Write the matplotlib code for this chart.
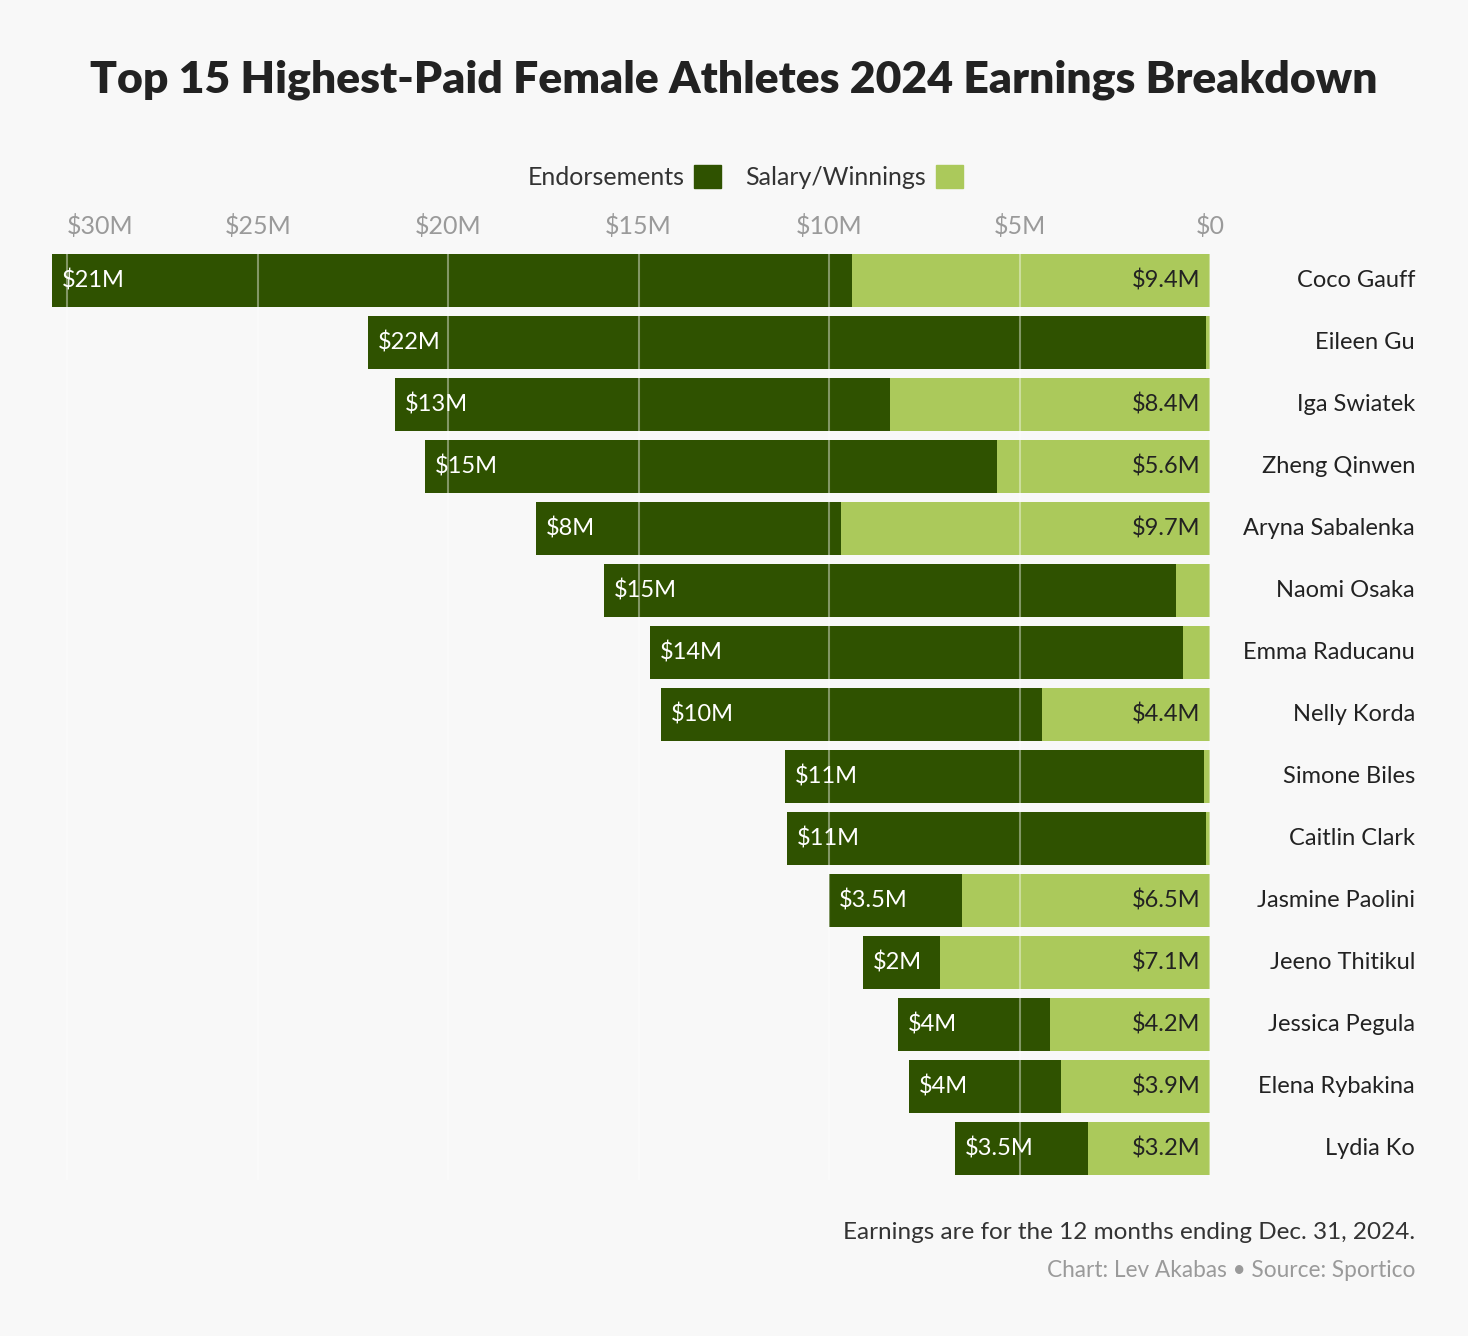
import matplotlib
matplotlib.use("Agg")
import matplotlib.pyplot as plt
from matplotlib.patches import Patch
from matplotlib.transforms import blended_transform_factory

athletes = ["Coco Gauff", "Eileen Gu", "Iga Swiatek", "Zheng Qinwen", "Aryna Sabalenka",
            "Naomi Osaka", "Emma Raducanu", "Nelly Korda", "Simone Biles", "Caitlin Clark",
            "Jasmine Paolini", "Jeeno Thitikul", "Jessica Pegula", "Elena Rybakina", "Lydia Ko"]
salary = [9.4, 0.1, 8.4, 5.6, 9.7, 0.9, 0.7, 4.4, 0.15, 0.1, 6.5, 7.1, 4.2, 3.9, 3.2]
endorsements = [21, 22, 13, 15, 8, 15, 14, 10, 11, 11, 3.5, 2, 4, 4, 3.5]
xticks = [0, 5, 10, 15, 20, 25, 30]
xtick_labels = ["$0", "$5M", "$10M", "$15M", "$20M", "$25M", "$30M"]

LIGHT = "#abc95b"
DARK = "#2f5200"
BG = "#f8f8f8"


def fmt(v):
    if float(v).is_integer():
        return "${:d}M".format(int(v))
    return "${:.1f}M".format(v)


def main():
    plt.rcParams["font.family"] = ["Lato", "DejaVu Sans"]
    fig = plt.figure(figsize=(14.68, 13.36), dpi=100, facecolor=BG)
    ax = fig.add_axes([0.0354, 0.1171, 0.7889, 0.6961])
    ax.set_facecolor(BG)

    y = list(range(len(athletes)))
    ax.barh(y, salary, height=0.855, color=LIGHT, zorder=2)
    ax.barh(y, endorsements, left=salary, height=0.855, color=DARK, zorder=2)

    ax.set_xlim(30.4, 0)
    ax.set_ylim(len(athletes) - 0.5, -0.5)

    for x in xticks:
        ax.axvline(x, color="white", alpha=0.4, lw=1.5, zorder=3)

    ax.xaxis.tick_top()
    ax.set_xticks(xticks)
    ax.set_xticklabels(xtick_labels)
    ax.tick_params(axis="x", length=0, pad=8, labelsize=18, labelcolor="#9a9a9a")
    ax.get_xticklabels()[-1].set_ha("left")
    ax.set_yticks([])
    for s in ax.spines.values():
        s.set_visible(False)

    trans = blended_transform_factory(fig.transFigure, ax.transData)
    for i, name in enumerate(athletes):
        ax.text(0.9639, i, name, transform=trans, ha="right", va="center",
                fontsize=17, color="#222222")
        if salary[i] >= 2:
            ax.annotate(fmt(salary[i]), xy=(0, i), xytext=(-7, 0), textcoords="offset points",
                        ha="right", va="center", fontsize=17, color="#222222", zorder=4)
        total = salary[i] + endorsements[i]
        ax.annotate(fmt(endorsements[i]), xy=(total, i), xytext=(7, 0), textcoords="offset points",
                    ha="left", va="center", fontsize=17, color="white", zorder=4)

    fig.text(0.5, 0.94, "Top 15 Highest-Paid Female Athletes 2024 Earnings Breakdown",
             ha="center", va="center", fontsize=32, fontweight="heavy", color="#222222")

    handles = [Patch(color=DARK, label="Endorsements"), Patch(color=LIGHT, label="Salary/Winnings")]
    fig.legend(handles=handles, loc="center", bbox_to_anchor=(0.5075, 0.8675), ncol=2,
               markerfirst=False, frameon=False, fontsize=18, handlelength=1.05, handleheight=1.05,
               handletextpad=0.4, columnspacing=1.0, labelcolor="#333333")

    fig.text(0.9639, 0.0778, "Earnings are for the 12 months ending Dec. 31, 2024.",
             ha="right", va="center", fontsize=17.5, color="#333333")
    fig.text(0.9639, 0.0494, "Chart: Lev Akabas \u2022 Source: Sportico",
             ha="right", va="center", fontsize=16.3, color="#9a9a9a")

    fig.savefig("out.png", dpi=100, facecolor=BG)


if __name__ == "__main__":
    main()
